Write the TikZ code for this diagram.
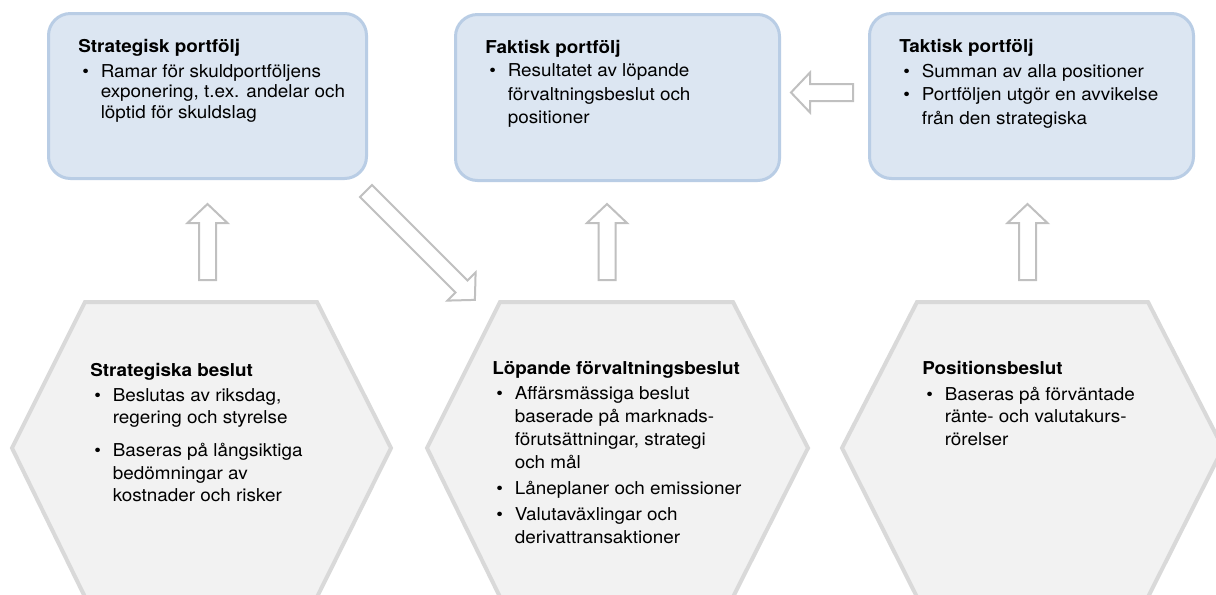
\documentclass[tikz,border=0pt]{standalone}
\usepackage{fontspec}
\setmainfont{TeX Gyre Heros}[FakeStretch=1.065]
\newdimen\pxu \pxu=0.75pt
\definecolor{boxfill}{HTML}{DCE6F2}
\definecolor{boxline}{HTML}{B9CDE5}
\definecolor{hexfill}{HTML}{F2F2F2}
\definecolor{hexline}{HTML}{D9D9D9}
\definecolor{arrline}{HTML}{C0C0C0}
\newcommand\bulx{\hspace*{4\pxu}\makebox[18.5\pxu][l]{\textbullet}}
\newcommand\bind{\hspace*{22.5\pxu}}
\newcommand\ttl[1]{\rule{0pt}{16\pxu}\textbf{#1}}
\newcommand\blockarrow[5]{%
  \begin{scope}[shift={(#2,#3)}, rotate=#4]
    \coordinate (#1-tail) at (0,0);
    \coordinate (#1-tip) at (#5,0);
    \draw[blockarr] (0,-8.5) -- ({#5-19},-8.5) -- ({#5-19},-20) -- (#1-tip)
      -- ({#5-19},20) -- ({#5-19},8.5) -- (0,8.5) -- cycle;
  \end{scope}}
\tikzset{
  portbox/.style={draw=boxline, fill=boxfill, line width=3\pxu, rounded corners=22\pxu, inner sep=0pt},
  hexbox/.style={draw=hexline, fill=hexfill, line width=4\pxu, line join=miter},
  blockarr/.style={draw=arrline, fill=white, line width=2\pxu, line join=miter},
  txt/.style={anchor=north west, inner sep=0pt, align=left, text=black},
}
\begin{document}
\begin{tikzpicture}[x=0.75pt, y=-0.75pt]
\fill[white] (0,0) rectangle (1216,594);
\useasboundingbox (0,0) rectangle (1216,594);

% hexagons
\draw[hexbox] (85,302) -- (317,302) -- (391,448) -- (317,597) -- (85,597) -- (12,448) -- cycle;
\draw[hexbox] (500,302) -- (733,302) -- (808,448) -- (733,597) -- (500,597) -- (427,448) -- cycle;
\draw[hexbox] (917,302) -- (1148,302) -- (1223,448) -- (1148,597) -- (917,597) -- (842,448) -- cycle;

% top boxes
\node[portbox, minimum width=318\pxu, minimum height=165\pxu] (strat) at (207.5,96) {};
\node[portbox, minimum width=324\pxu, minimum height=166\pxu] (fakt) at (617.5,97.5) {};
\node[portbox, minimum width=324\pxu, minimum height=165\pxu] (takt) at (1031.5,96) {};

% arrows
\blockarrow{a1}{207.5}{280}{90}{76}
\blockarrow{a2}{607}{280}{90}{76}
\blockarrow{a3}{1027.5}{280}{90}{76}
\blockarrow{a4}{853}{92.5}{180}{62}
\blockarrow{a5}{366}{191}{-45}{154}

% texts
\node[txt, font=\fontsize{13.3pt}{15.4pt}\selectfont] (strat-t) at (78,36) {%
\ttl{Strategisk portfölj}\\[4.5\pxu]
\bulx Ramar för skuldportföljens\\
\bind exponering, t.ex. andelar och\\
\bind löptid för skuldslag};

\node[txt, font=\fontsize{13.3pt}{17.6pt}\selectfont] (fakt-t) at (485,37) {%
\ttl{Faktisk portfölj}\\
\bulx Resultatet av löpande\\
\bind förvaltningsbeslut och\\
\bind positioner};

\node[txt, font=\fontsize{13.3pt}{17.6pt}\selectfont] (takt-t) at (899,36) {%
\ttl{Taktisk portfölj}\\[1.5\pxu]
\bulx Summan av alla positioner\\
\bulx Portföljen utgör en avvikelse\\
\bind från den strategiska};

\node[txt, font=\fontsize{13.3pt}{16.9pt}\selectfont] (sb-t) at (90,360) {%
\ttl{Strategiska beslut}\\[2.5\pxu]
\bulx Beslutas av riksdag,\\
\bind regering och styrelse\\[10.5\pxu]
\bulx Baseras på långsiktiga\\
\bind bedömningar av\\
\bind kostnader och risker};

\node[txt, font=\fontsize{13.3pt}{17.25pt}\selectfont] (lf-t) at (492,358) {%
\ttl{Löpande förvaltningsbeslut}\\[2\pxu]
\bulx Affärsmässiga beslut\\
\bind baserade på marknads-\\
\bind förutsättningar, strategi\\
\bind och mål\\[3\pxu]
\bulx Låneplaner och emissioner\\[3\pxu]
\bulx Valutaväxlingar och\\
\bind derivattransaktioner};

\node[txt, font=\fontsize{13.3pt}{16.9pt}\selectfont] (pb-t) at (922,358) {%
\ttl{Positionsbeslut}\\[3.5\pxu]
\bulx Baseras på förväntade\\
\bind ränte- och valutakurs-\\
\bind rörelser};
\end{tikzpicture}
\end{document}
